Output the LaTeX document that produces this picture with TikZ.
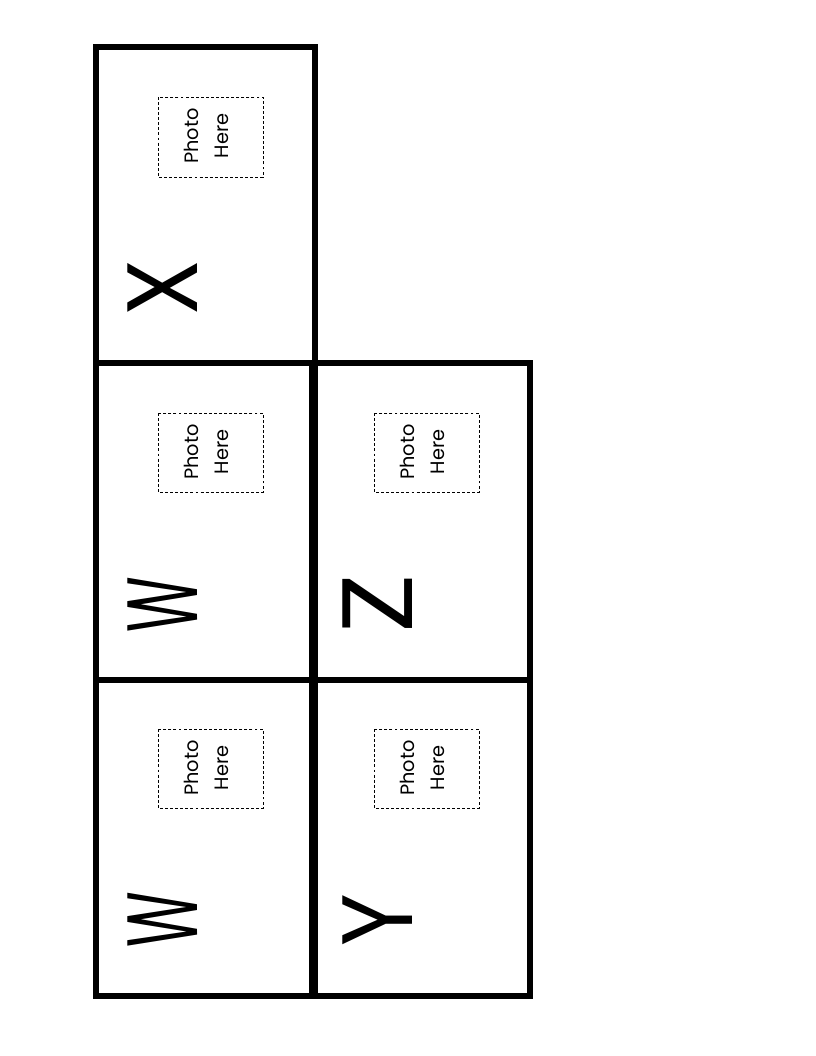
\documentclass[tikz,border=0pt]{standalone}
\usepackage{fontspec}
\usepackage{graphicx}
\setmainfont{Poppins}
\tikzset{
  cell/.style={draw=black,line width=4.1pt},
  photo/.style={draw=black,line width=0.6pt,dash pattern=on 2.2pt off 1.6pt},
  phototext/.style={rotate=90,align=center,font=\fontsize{14.5}{22.5}\selectfont},
  letter/.style={rotate=90,inner sep=0pt,font=\fontsize{75}{75}\selectfont}
}
\begin{document}
\begin{tikzpicture}[x=0.75pt,y=-0.75pt]
\useasboundingbox (0,0) rectangle (816,1056);
\draw[cell] (96,47) rectangle (315,363);            % the top card
\draw[cell] (96,363) rectangle (312,680);           % left column
\draw[cell] (96,680) rectangle (312,996);
\draw[cell] (315,363) rectangle (530,680);          % right column
\draw[cell] (315,680) rectangle (530,996);
\draw[photo] (158,97) rectangle (263,177);          % photo frames
\draw[photo] (158,413) rectangle (263,492);
\draw[photo] (158,729) rectangle (263,808);
\draw[photo] (374,413) rectangle (479,492);
\draw[photo] (374,729) rectangle (479,808);
\node[phototext] (photoX) at (206,136) {Photo\\Here};
\node[phototext] (photoW) at (206,452) {Photo\\Here};
\node[phototext] (photoWW) at (206,768) {Photo\\Here};
\node[phototext] (photoZ) at (422,452) {Photo\\Here};
\node[phototext] (photoY) at (422,768) {Photo\\Here};
\node[letter] (letX) at (163,288) {\scalebox{0.92}[1]{X}};
\node[letter] (letW) at (163,605) {\scalebox{0.57}[1]{W}};
\node[letter] (letWW) at (163,920) {\scalebox{0.57}[1]{W}};
\node[letter] (letZ) at (378,604) {\scalebox{1.1}[1]{Z}};
\node[letter] (letY) at (378,920) {\scalebox{0.9}[1]{Y}};
\end{tikzpicture}
\end{document}
